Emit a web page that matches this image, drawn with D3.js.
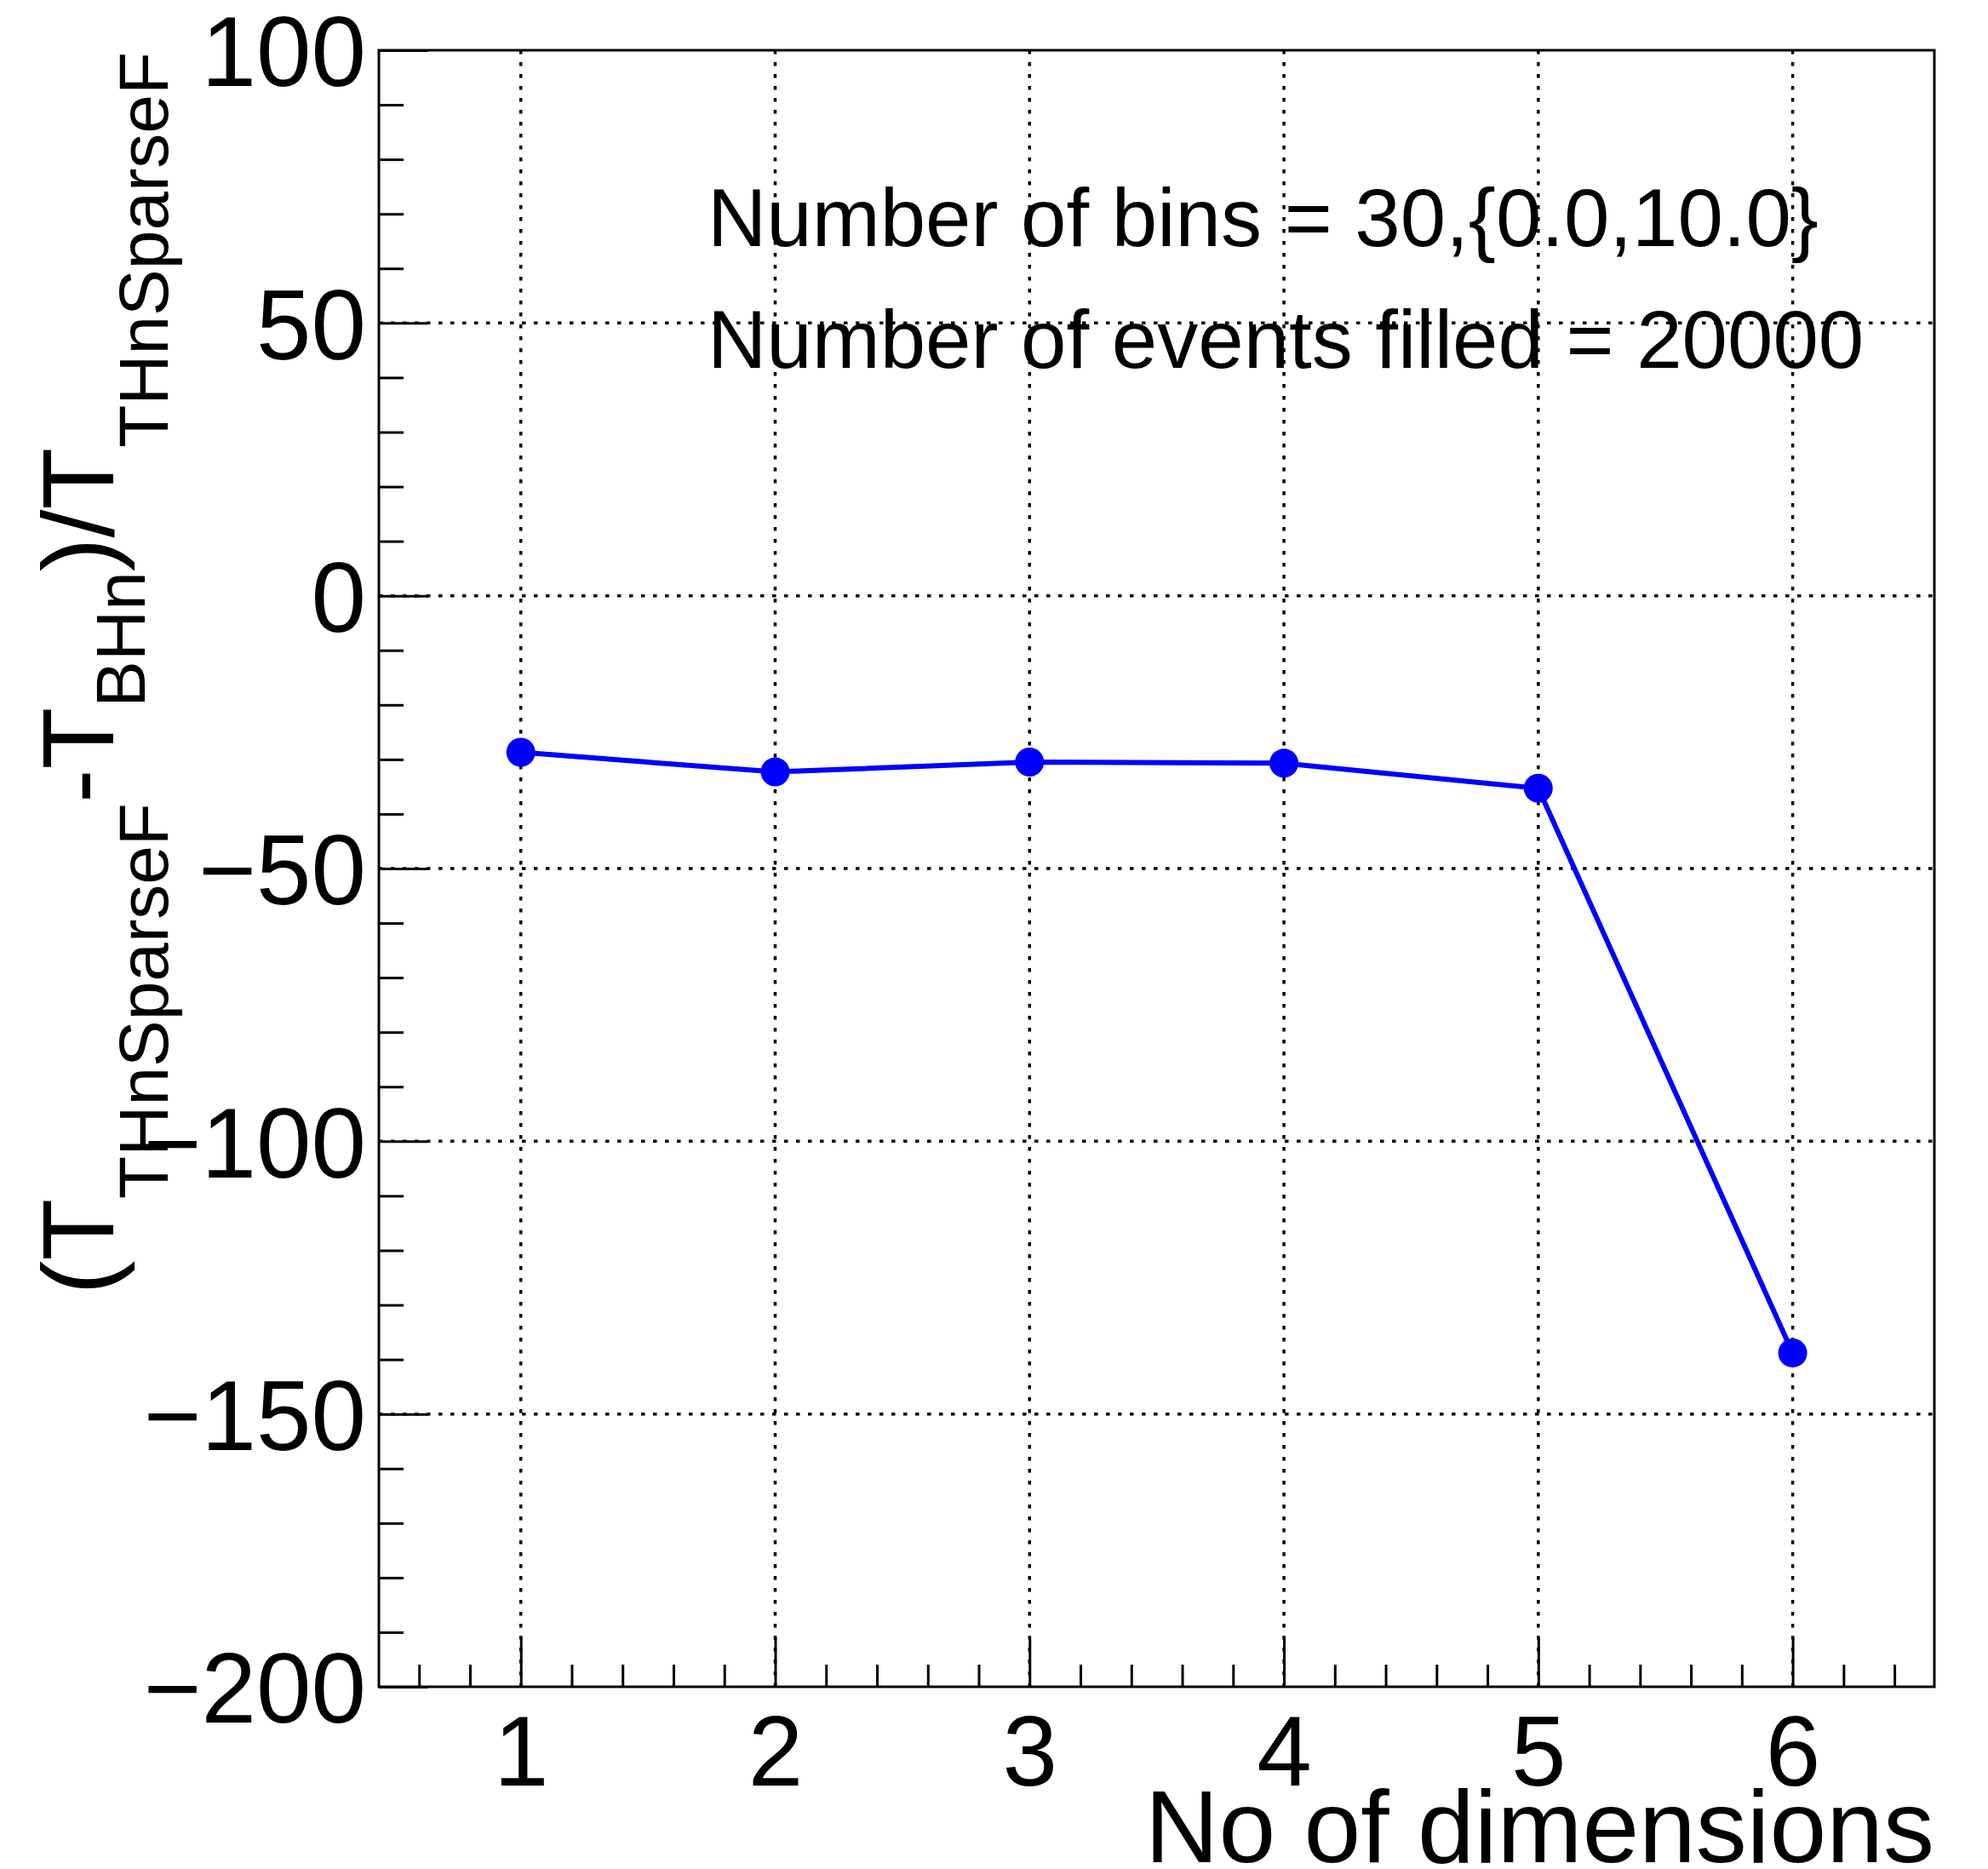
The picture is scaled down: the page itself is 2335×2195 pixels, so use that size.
<!DOCTYPE html>
<html>
<head>
<meta charset="utf-8">
<script src="https://cdn.jsdelivr.net/npm/d3@7"></script>
<style>
  html, body { margin: 0; padding: 0; background: #fff; }
  svg { display: block; }
  text { font-family: "Liberation Sans", Arial, Helvetica, sans-serif; fill: #000; }
</style>
</head>
<body>
<svg id="chart" width="2335" height="2195"></svg>
<script>
// Number of dimensions on the x axis
const dimensions = [1, 2, 3, 4, 5, 6];
// Relative timing difference (percent) between THnSparseF and BHn fills
const relDiff = [-28.7, -32.3, -30.5, -30.7, -35.3, -138.8];

const xMajorTicks = [1, 2, 3, 4, 5, 6];
const yMajorTicks = [-200, -150, -100, -50, 0, 50, 100];
const yGridTicks = [-150, -100, -50, 0, 50];
const xMinorTicks = d3.range(0.6, 6.45, 0.2).map(v => +v.toFixed(1)).filter(v => Math.abs(v - Math.round(v)) > 1e-6);
const yMinorTicks = d3.range(-200, 101, 10).filter(v => v % 50 !== 0);

const infoLines = ["Number of bins = 30,{0.0,10.0}", "Number of events filled = 20000"];
const xTitle = "No of dimensions";

const frame = { left: 445, right: 2272, top: 59, bottom: 1981 };

const svg = d3.select("#chart");
svg.append("rect").attr("width", 2335).attr("height", 2195).attr("fill", "#fff");

const x = d3.scaleLinear().domain([0.442, 6.557]).range([frame.left, frame.right]);
const y = d3.scaleLinear().domain([-200, 100]).range([frame.bottom, frame.top]);

// Dotted grid
const grid = svg.append("g").attr("stroke", "#000").attr("stroke-width", 3.5).attr("stroke-dasharray", "4.5 9.5");
grid.selectAll("line.v").data(xMajorTicks).join("line")
  .attr("x1", d => x(d)).attr("x2", d => x(d))
  .attr("y1", frame.top).attr("y2", frame.bottom);
grid.selectAll("line.h").data(yGridTicks).join("line")
  .attr("y1", d => y(d)).attr("y2", d => y(d))
  .attr("x1", frame.left).attr("x2", frame.right);

// X axis: major and minor ticks pointing inward
const gx = svg.append("g").attr("transform", `translate(0,${frame.bottom})`);
gx.call(d3.axisBottom(x).tickValues(xMajorTicks).tickSize(-58).tickFormat(d3.format("d")));
gx.select(".domain").remove();
gx.selectAll(".tick line").attr("stroke", "#000").attr("stroke-width", 3);
gx.selectAll(".tick text")
  .attr("y", 116).attr("dy", 0)
  .style("font-size", "116px").attr("fill", "#000");

const gxm = svg.append("g").attr("transform", `translate(0,${frame.bottom})`);
gxm.call(d3.axisBottom(x).tickValues(xMinorTicks).tickSize(-26).tickFormat(""));
gxm.select(".domain").remove();
gxm.selectAll(".tick line").attr("stroke", "#000").attr("stroke-width", 3);

// Y axis
const gy = svg.append("g").attr("transform", `translate(${frame.left},0)`);
gy.call(d3.axisLeft(y).tickValues(yMajorTicks).tickSize(-58).tickPadding(15)
  .tickFormat(d => d < 0 ? "\u2212" + Math.abs(d) : String(d)));
gy.select(".domain").remove();
gy.selectAll(".tick line").attr("stroke", "#000").attr("stroke-width", 3);
gy.selectAll(".tick text")
  .attr("dy", "0.36em")
  .style("font-size", "116px").attr("fill", "#000");

const gym = svg.append("g").attr("transform", `translate(${frame.left},0)`);
gym.call(d3.axisLeft(y).tickValues(yMinorTicks).tickSize(-29).tickFormat(""));
gym.select(".domain").remove();
gym.selectAll(".tick line").attr("stroke", "#000").attr("stroke-width", 3);

// Frame
svg.append("rect")
  .attr("x", frame.left).attr("y", frame.top)
  .attr("width", frame.right - frame.left).attr("height", frame.bottom - frame.top)
  .attr("fill", "none").attr("stroke", "#000").attr("stroke-width", 3);

// Data line and markers
const pts = dimensions.map((d, i) => [d, relDiff[i]]);
svg.append("path")
  .datum(pts)
  .attr("fill", "none").attr("stroke", "#0000ff").attr("stroke-width", 6)
  .attr("d", d3.line().x(d => x(d[0])).y(d => y(d[1])));
svg.selectAll("circle.pt").data(pts).join("circle")
  .attr("class", "pt")
  .attr("cx", d => x(d[0])).attr("cy", d => y(d[1]))
  .attr("r", 17).attr("fill", "#0000ff");

// Info text
svg.selectAll("text.info").data(infoLines).join("text")
  .attr("class", "info")
  .attr("x", 831).attr("y", (d, i) => 289 + i * 143)
  .style("font-size", "96px")
  .text(d => d);

// X axis title
svg.append("text")
  .attr("x", frame.right).attr("y", 2187)
  .attr("text-anchor", "end")
  .style("font-size", "120px")
  .text(xTitle);

// Y axis title: (T_{THnSparseF}-T_{BHn})/T_{THnSparseF}
const yTitleParts = [
  { t: "(T", sub: false },
  { t: "THnSparseF", sub: true, shift: 64 },
  { t: "-T", sub: false },
  { t: "BHn", sub: true, shift: 37 },
  { t: ")/T", sub: false },
  { t: "THnSparseF", sub: true, shift: 64 }
];
const yt = svg.append("text")
  .attr("transform", `translate(133,${frame.top + 2}) rotate(-90)`)
  .attr("text-anchor", "end")
  .style("font-size", "119px");
let cur = 0;
yTitleParts.forEach(p => {
  const target = p.sub ? p.shift : 0;
  yt.append("tspan")
    .attr("dy", target - cur)
    .style("font-size", p.sub ? "82px" : "119px")
    .text(p.t);
  cur = target;
});
</script>
</body>
</html>
